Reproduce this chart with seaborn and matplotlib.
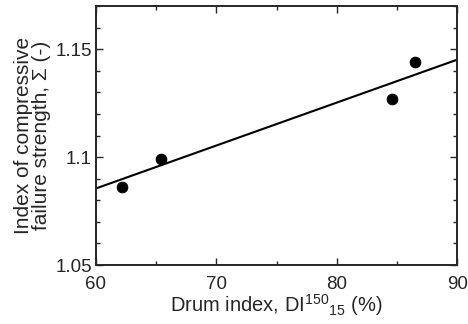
import numpy as np
import pandas as pd
import matplotlib
matplotlib.use("Agg")
import matplotlib.pyplot as plt
import seaborn as sns
from matplotlib.ticker import MultipleLocator

# measured points
drum_index = [62.2, 65.4, 84.6, 86.5]
sigma = [1.086, 1.099, 1.127, 1.144]

# fitted line end points
fit_x = [60, 90]
fit_y = [1.0855, 1.1452]

x_ticks = [60, 70, 80, 90]
y_ticks = [1.05, 1.1, 1.15]
y_tick_labels = ["1.05", "1.1", "1.15"]

sns.set_style("ticks")
plt.rcParams["font.family"] = ["Liberation Sans", "DejaVu Sans"]
plt.rcParams["mathtext.fontset"] = "custom"
plt.rcParams["mathtext.rm"] = "Liberation Sans"
plt.rcParams["mathtext.it"] = "Liberation Sans"
plt.rcParams["mathtext.default"] = "regular"

df = pd.DataFrame({"x": drum_index, "y": sigma})
fit = pd.DataFrame({"x": fit_x, "y": fit_y})

fig = plt.figure(figsize=(4.68, 3.24), dpi=100)
ax = fig.add_axes([0.205, 0.182, 0.772, 0.799])

sns.lineplot(data=fit, x="x", y="y", ax=ax, color="black", linewidth=1.5)
sns.scatterplot(data=df, x="x", y="y", ax=ax, color="black", s=60, edgecolor="black", zorder=3)

ax.set_xlim(60, 90)
ax.set_ylim(1.05, 1.17)
ax.set_xticks(x_ticks)
ax.set_yticks(y_ticks)
ax.set_yticklabels(y_tick_labels)
ax.xaxis.set_minor_locator(MultipleLocator(5))
ax.yaxis.set_minor_locator(MultipleLocator(0.01))
ax.tick_params(which="both", direction="in", top=True, right=True, labelsize=13.5, width=1.0)
ax.tick_params(axis="x", pad=8)
ax.tick_params(axis="y", pad=3)
ax.tick_params(which="major", length=5)
ax.tick_params(which="minor", length=3)
for sp in ax.spines.values():
    sp.set_linewidth(1.4)

ax.set_xlabel(r"Drum index, DI$^{150}{}_{15}$ (%)", fontsize=14.5, labelpad=-1)
ax.set_ylabel("Index of compressive\nfailure strength, \u03a3 (-)", fontsize=15, labelpad=3, linespacing=0.95)

fig.savefig("out.png", dpi=100)
